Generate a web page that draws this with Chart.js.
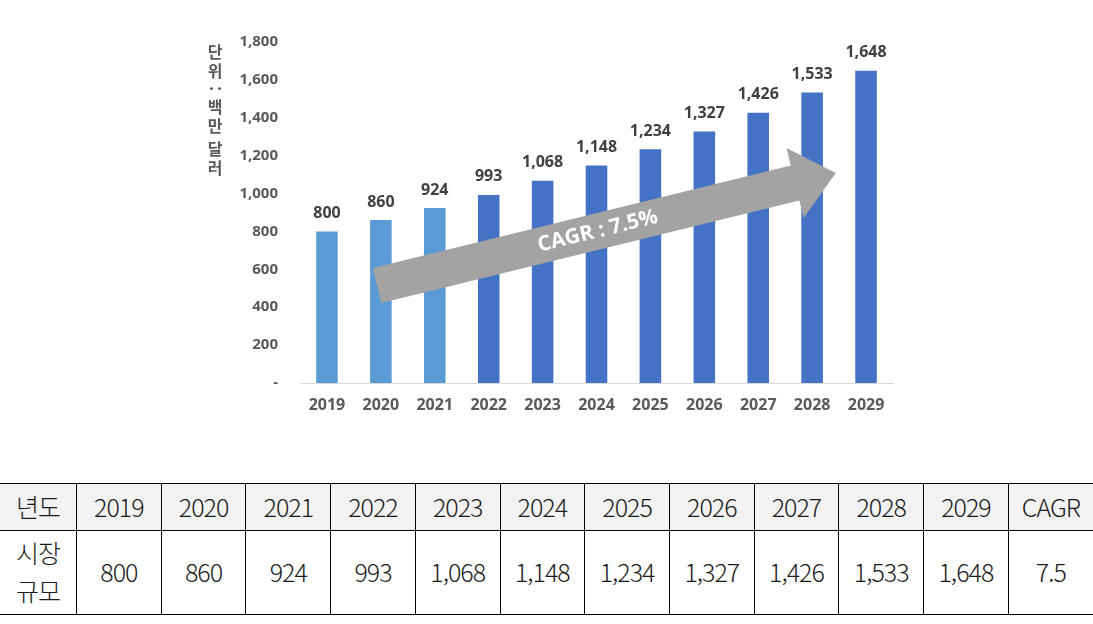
<!DOCTYPE html>
<html lang="ko">
<head>
<meta charset="utf-8">
<script src="https://cdn.jsdelivr.net/npm/chart.js@4.4.1/dist/chart.umd.min.js"></script>
<style>
  html, body { margin: 0; padding: 0; background: #fff; }
  body { width: 1093px; height: 624px; position: relative; overflow: hidden; }
  #chartBox { position: absolute; left: 0; top: 0; width: 1093px; height: 440px; }
  #marketTable {
    position: absolute; left: 0; top: 483px; width: 1093px;
    border-collapse: collapse; table-layout: fixed;
    font-family: "Noto Sans CJK KR", "Noto Sans", sans-serif;
    font-weight: 300; font-size: 25px; color: #1a1a1a; letter-spacing: -1px;
  }
  #marketTable td {
    border: 1px solid #000; text-align: center; padding: 0;
  }
  #marketTable tr td:first-child { border-left: none; }
  #marketTable tr td:last-child { border-right: none; }
  #marketTable tr.head td { background: #f2f2f2; height: 43px; padding-bottom: 3px; }
  #marketTable tr.body td { height: 80px; line-height: 38px; padding-bottom: 3px; }
</style>
</head>
<body>
<div id="chartBox"><canvas id="marketChart" width="1093" height="440"></canvas></div>
<table id="marketTable"></table>
<script>
const years = ["2019", "2020", "2021", "2022", "2023", "2024", "2025", "2026", "2027", "2028", "2029"];
const marketSize = [800, 860, 924, 993, 1068, 1148, 1234, 1327, 1426, 1533, 1648];
const barColors = ["#5b9bd5", "#5b9bd5", "#5b9bd5", "#4472c4", "#4472c4", "#4472c4",
                   "#4472c4", "#4472c4", "#4472c4", "#4472c4", "#4472c4"];
const yTicks = [0, 200, 400, 600, 800, 1000, 1200, 1400, 1600, 1800];
const cagr = "7.5";
const unitLabel = "단위 : 백만 달러";
// arrow runs from (category index, value) to (category index, value)
const arrowFrom = [0.93, 515];
const arrowTo = [9.44, 1109];

const fmt = v => v.toLocaleString("en-US");

// table under the chart
const table = document.getElementById("marketTable");
let head = '<tr class="head"><td style="width:76px">년도</td>';
years.forEach(y => head += `<td>${y}</td>`);
head += "<td>CAGR</td></tr>";
let body = '<tr class="body"><td>시장<br>규모</td>';
marketSize.forEach(v => body += `<td>${fmt(v)}</td>`);
body += `<td>${cagr}</td></tr>`;
table.innerHTML = head + body;

const labelFont = '"Open Sans", "Noto Sans", sans-serif';

const extras = {
  id: "extras",
  afterDatasetsDraw(chart) {
    const ctx = chart.ctx;
    const xs = chart.scales.x, ys = chart.scales.y;
    const px = v => xs.left + (v[0] + 0.5) * (xs.width / years.length);

    // CAGR arrow
    const x0 = px(arrowFrom), y0 = ys.getPixelForValue(arrowFrom[1]);
    const x1 = px(arrowTo), y1 = ys.getPixelForValue(arrowTo[1]);
    const ang = Math.atan2(y1 - y0, x1 - x0);
    const len = Math.hypot(x1 - x0, y1 - y0);
    const shaft = 18, headW = 36, headL = 42;
    ctx.save();
    ctx.translate(x0, y0);
    ctx.rotate(ang);
    ctx.fillStyle = "#a3a3a3";
    ctx.beginPath();
    ctx.moveTo(0, -shaft);
    ctx.lineTo(len - headL, -shaft);
    ctx.lineTo(len - headL, -headW);
    ctx.lineTo(len, 0);
    ctx.lineTo(len - headL, headW);
    ctx.lineTo(len - headL, shaft);
    ctx.lineTo(0, shaft);
    ctx.closePath();
    ctx.fill();
    ctx.fillStyle = "#fff";
    ctx.font = "bold 21px " + labelFont;
    ctx.textAlign = "center";
    ctx.textBaseline = "middle";
    ctx.fillText("CAGR : " + cagr + "%", (len - headL) / 2 + 12, 0);
    ctx.restore();

    // value labels
    ctx.save();
    ctx.fillStyle = "#404040";
    ctx.font = "bold 16px " + labelFont;
    ctx.textAlign = "center";
    ctx.textBaseline = "middle";
    chart.getDatasetMeta(0).data.forEach((bar, i) => {
      ctx.fillText(fmt(marketSize[i]), bar.x, bar.y - 18);
    });
    ctx.restore();

    // vertical unit title, Korean upright
    ctx.save();
    ctx.fillStyle = "#595959";
    ctx.font = 'bold 16px "Noto Sans CJK KR", sans-serif';
    ctx.textAlign = "center";
    ctx.textBaseline = "middle";
    let y = 42;
    for (const ch of unitLabel) {
      if (ch === " ") { y += 4; continue; }
      if (/[가-힣]/.test(ch)) {
        y += 9.5;
        ctx.fillText(ch, 215, y);
        y += 9.5;
      } else {
        const w = ctx.measureText(ch).width;
        y += w / 2 + 2;
        ctx.save();
        ctx.translate(215, y);
        ctx.rotate(Math.PI / 2);
        ctx.fillText(ch, 0, 0);
        ctx.restore();
        y += w / 2 + 2;
      }
    }
    ctx.restore();
  }
};

new Chart(document.getElementById("marketChart"), {
  type: "bar",
  data: {
    labels: years,
    datasets: [{
      data: marketSize,
      backgroundColor: barColors,
      barPercentage: 0.8,
      categoryPercentage: 0.5
    }]
  },
  options: {
    responsive: false,
    animation: false,
    events: [],
    layout: { padding: { left: 190, right: 200, top: 42, bottom: 17 } },
    scales: {
      x: {
        grid: { color: "rgba(0,0,0,0)", drawTicks: false },
        border: { display: true, color: "#d9d9d9", width: 1 },
        ticks: { color: "#595959", font: { family: labelFont, size: 16, weight: "bold" }, padding: 13 },
        afterFit: s => { s.height = 40; }
      },
      y: {
        min: 0,
        max: 1800,
        afterBuildTicks: s => { s.ticks = yTicks.map(v => ({ value: v })); },
        grid: { display: false, drawTicks: false },
        border: { display: false },
        ticks: {
          color: "#595959",
          font: { family: labelFont, size: 15, weight: "bold" },
          padding: 22,
          callback: v => v === 0 ? "-" : fmt(v)
        },
        afterFit: s => { s.width = 110; }
      }
    },
    plugins: { legend: { display: false }, tooltip: { enabled: false } }
  },
  plugins: [extras]
});
</script>
</body>
</html>
